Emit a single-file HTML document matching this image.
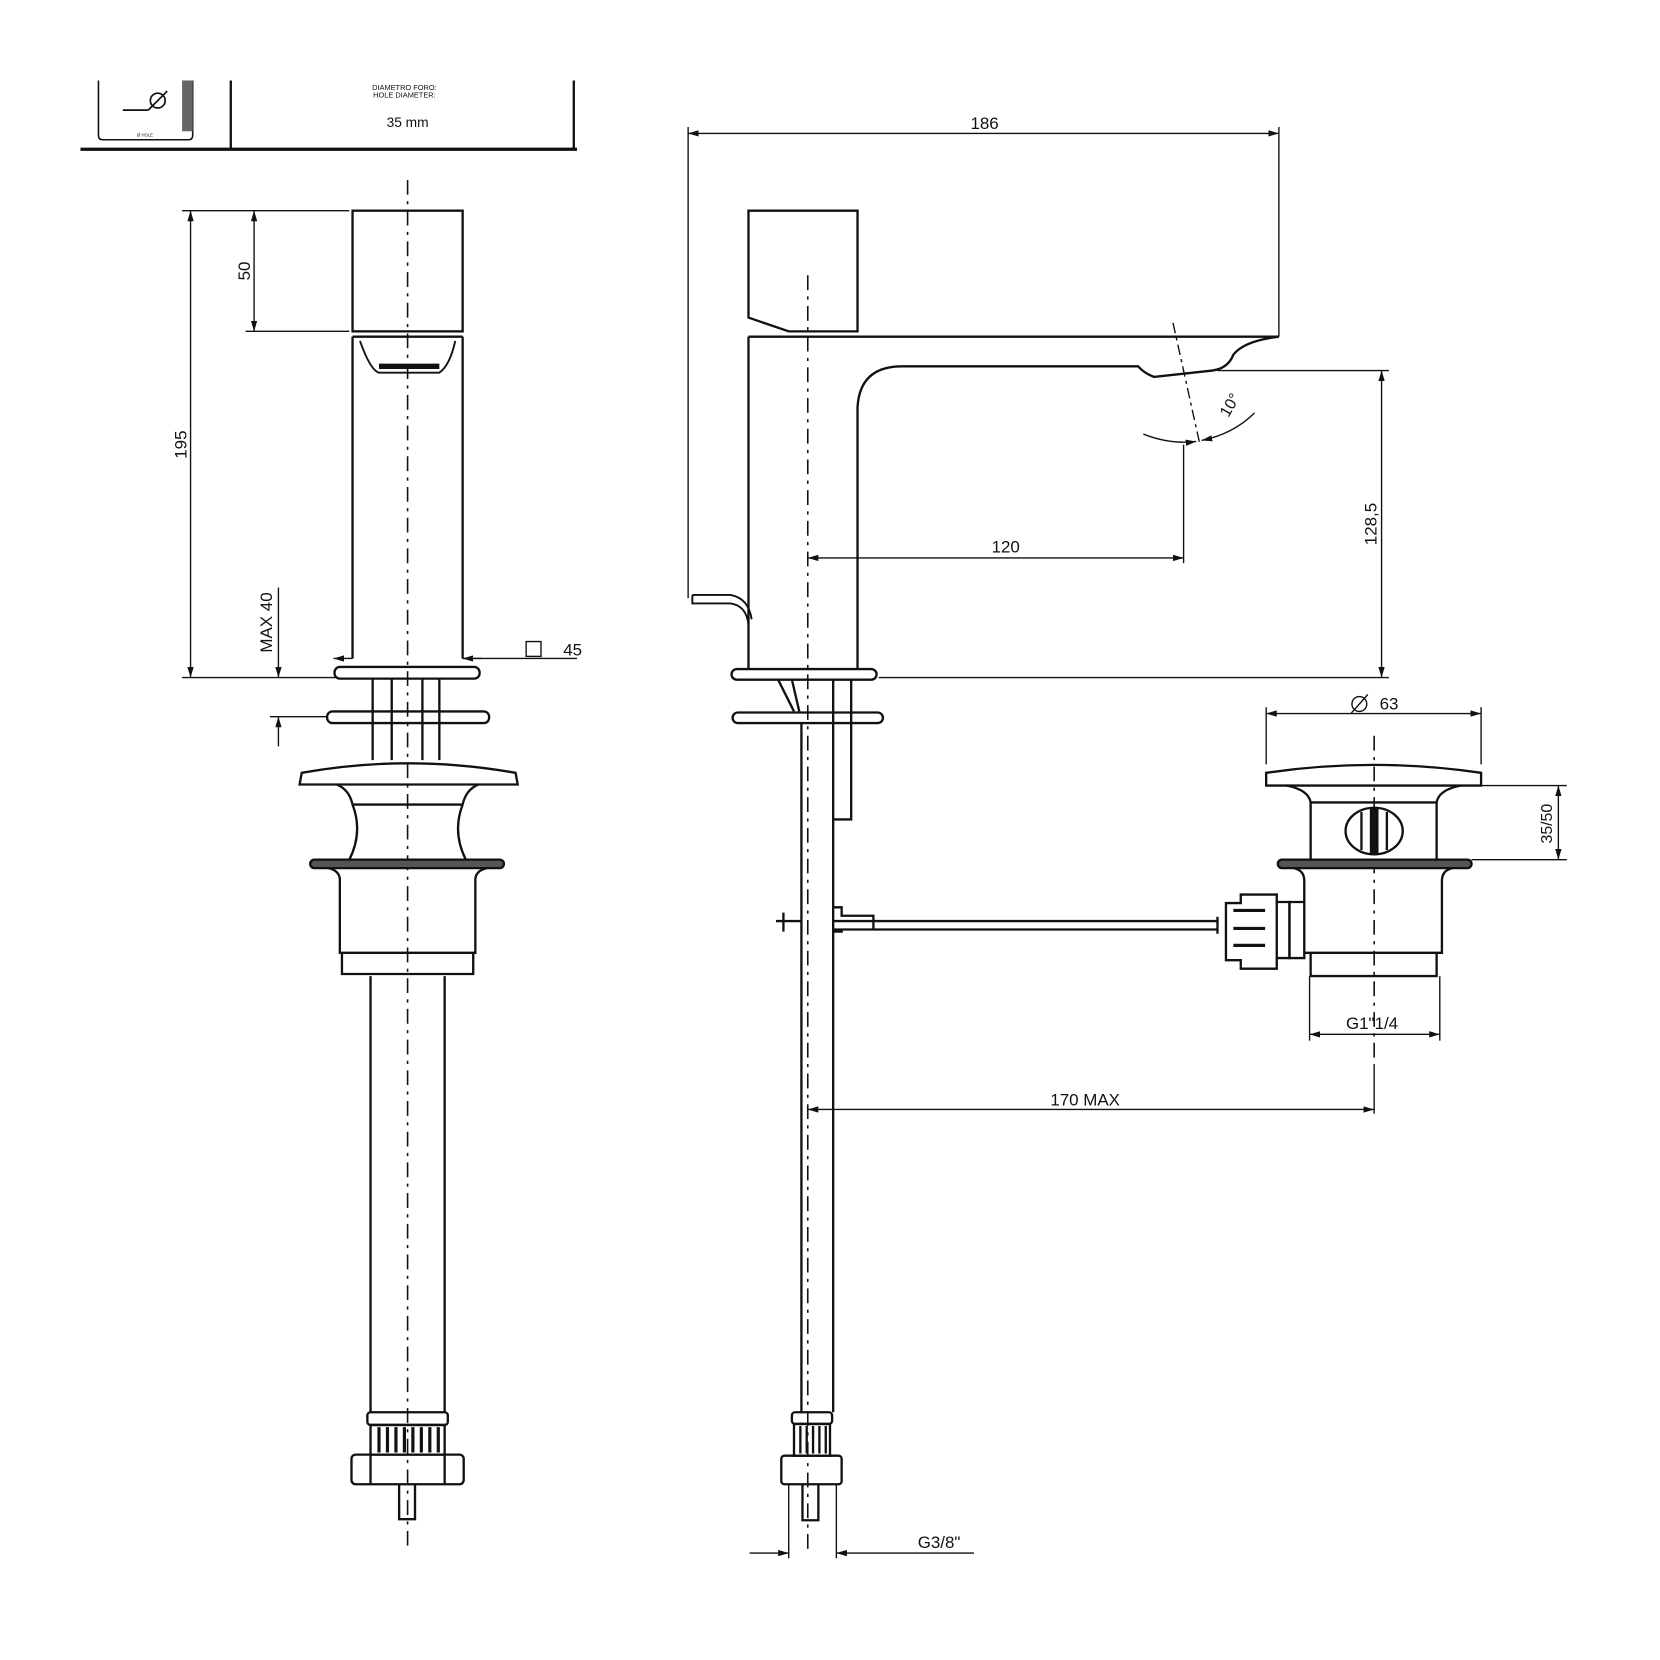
<!DOCTYPE html>
<html><head><meta charset="utf-8"><style>
html,body{margin:0;padding:0;background:#fff}
svg{display:block}
text{font-family:"Liberation Sans",sans-serif;fill:#111}
</style></head><body>
<svg width="1660" height="1660" viewBox="0 0 1568 1568" xmlns="http://www.w3.org/2000/svg">
<defs>
<marker id="a" viewBox="0 0 10 6" refX="10" refY="3" markerWidth="10" markerHeight="6" orient="auto-start-reverse" markerUnits="userSpaceOnUse"><path d="M0,0L10,3L0,6z" fill="#111"/></marker>
</defs>
<g fill="none" stroke="#111" stroke-width="2.2">
<line x1="76" y1="141" x2="545" y2="141" stroke-width="3"/>
<line x1="542" y1="76" x2="542" y2="141"/>
<line x1="218" y1="76" x2="218" y2="141"/>
<path d="M93,76 V128 Q93,132 97,132 H178 Q182,132 182,128 V76" stroke-width="1.5"/>
<rect x="172" y="76" width="10" height="48" fill="#666" stroke="none"/>
<circle cx="149" cy="95" r="7" stroke-width="1.6"/>
<line x1="140" y1="104" x2="158" y2="86" stroke-width="1.6"/>
<line x1="116" y1="104" x2="140" y2="104" stroke-width="1.6"/>
</g>
<text x="382" y="85" font-size="7" text-anchor="middle">DIAMETRO FORO:</text>
<text x="382" y="92" font-size="7" text-anchor="middle">HOLE DIAMETER:</text>
<text x="385" y="120" font-size="13" text-anchor="middle">35 mm</text>
<text x="137" y="129" font-size="4" text-anchor="middle">Ø HOLE</text>

<g fill="none" stroke="#111" stroke-width="2.2">
<line x1="385" y1="170" x2="385" y2="1465" stroke-width="1.5" stroke-dasharray="14,6,3,6"/>
<rect x="333" y="199" width="104" height="114"/>
<path d="M333,318 V622 M437,318 V622 M333,318 H437"/>
<path d="M340,322 Q350,350 358,352 H415 Q425,345 430,322" stroke-width="1.8"/>
<path d="M358,346 H415" stroke-width="5"/>
<rect x="316" y="630" width="137" height="11" rx="5"/>
<rect x="309" y="672" width="153" height="11" rx="5"/>
<path d="M352,641V718 M370,641V718 M399,641V718 M415,641V718"/>
<path d="M285,730 Q385,712 487,730 L489,741 H283 Z"/>
<path d="M318,741 Q330,746 333,760 M452,741 Q440,746 437,760 M333,760 H437 M333,760 Q343,786 330,812 M437,760 Q427,786 440,812"/>
<rect x="293" y="812" width="183" height="8" rx="4" fill="#555"/>
<path d="M310,820 Q320,822 321,830 V900 H449 V830 Q450,822 460,820"/>
<path d="M323,900 V920 H447 V900"/>
<path d="M350,922 V1334 M420,922 V1334"/>
<rect x="347" y="1334" width="76" height="12" rx="3"/>
<path d="M350,1346 H420 V1374 H350 Z"/>
<path d="M358,1348V1372 M366,1348V1372 M374,1348V1372 M382,1348V1372 M390,1348V1372 M398,1348V1372 M406,1348V1372 M414,1348V1372" stroke-width="3"/>
<rect x="332" y="1374" width="106" height="28" rx="4"/>
<path d="M350,1374V1402 M420,1374V1402"/>
<path d="M377,1402V1435 H392 V1402"/>
</g>
<g fill="none" stroke="#111" stroke-width="1.3">
<line x1="172" y1="199" x2="330" y2="199"/>
<line x1="172" y1="640" x2="318" y2="640"/>
<line x1="180" y1="199" x2="180" y2="640" marker-start="url(#a)" marker-end="url(#a)"/>
<line x1="232" y1="313" x2="330" y2="313"/>
<line x1="240" y1="199" x2="240" y2="313" marker-start="url(#a)" marker-end="url(#a)"/>
<line x1="255" y1="677" x2="309" y2="677"/>
<line x1="263" y1="555" x2="263" y2="640" marker-end="url(#a)"/>
<line x1="263" y1="705" x2="263" y2="677" marker-end="url(#a)"/>
<line x1="315" y1="622" x2="333" y2="622" marker-start="url(#a)"/>
<line x1="455" y1="622" x2="437" y2="622" marker-end="url(#a)"/>
<line x1="437" y1="622" x2="545" y2="622"/>
<rect x="497" y="606" width="14" height="14"/>
</g>
<text x="532" y="619" font-size="16">45</text>
<text transform="translate(176,420) rotate(-90)" font-size="16" text-anchor="middle">195</text>
<text transform="translate(236,256) rotate(-90)" font-size="16" text-anchor="middle">50</text>
<text transform="translate(257,588) rotate(-90)" font-size="16" text-anchor="middle">MAX 40</text>

<g fill="none" stroke="#111" stroke-width="2.2">
<line x1="763" y1="260" x2="763" y2="1465" stroke-width="1.5" stroke-dasharray="14,6,3,6"/>
<path d="M707,199 H810 V313 H745 L707,300 Z"/>
<path d="M707,318 V632 M707,318 H1208 Q1175,322 1165,335 Q1160,348 1145,350 L1090,356 Q1080,352 1075,346 H852 Q812,346 810,385 V632"/>
<path d="M654,562 H690 Q707,565 710,585 M654,562 V570 H690 Q705,572 707,590" stroke-width="1.8"/>
<rect x="691" y="632" width="137" height="10" rx="5"/>
<rect x="692" y="673" width="142" height="10" rx="5"/>
<path d="M735,642 L750,672 M748,642 L755,672"/>
<path d="M757,683 V1334 M787,642 V1334 M804,642 V774 H787"/>
<path d="M787,857 H795 V865 H825 V878 H795 V880 H787 M733,870 H757 M740,862 V880 M787,870 H1150 M787,878 H1150"/>
<rect x="748" y="1334" width="38" height="11" rx="3"/>
<path d="M750,1345 H784 V1375 H750 Z M756,1347V1373 M762,1347V1373 M768,1347V1373 M774,1347V1373 M780,1347V1373" />
<rect x="738" y="1375" width="57" height="27" rx="3"/>
<path d="M758,1402 V1436 H773 V1402"/>
<line x1="1298" y1="695" x2="1298" y2="1000" stroke-width="1.5" stroke-dasharray="14,6,3,6"/>
<path d="M1196,730 Q1298,715 1399,730 V742 H1196 Z"/>
<path d="M1215,742 Q1236,746 1238,758 V812 M1380,742 Q1359,746 1357,758 V812 M1238,758 H1357"/>
<ellipse cx="1298" cy="785" rx="27" ry="22"/>
<path d="M1286,767V803 M1310,767V803" />
<rect x="1295" y="764" width="6" height="42" fill="#111"/>
<rect x="1207" y="812" width="183" height="8" rx="4" fill="#555"/>
<path d="M1222,820 Q1232,822 1232,832 V852 H1218 V905 H1232 V900 M1232,852 V900 H1362 V832 Q1362,822 1372,820"/>
<path d="M1238,900 V922 H1357 V900"/>
<path d="M1172,845 H1206 V915 H1172 V907 H1158 V853 H1172 Z M1206,852 H1218 V905 H1206"/>
<path d="M1165,860 H1195 M1165,877 H1195 M1165,893 H1195" stroke-width="3"/>
<path d="M1150,866 V882"/>
</g>
<g fill="none" stroke="#111" stroke-width="1.3">
<line x1="650" y1="120" x2="650" y2="565"/>
<line x1="1208" y1="120" x2="1208" y2="318"/>
<line x1="650" y1="126" x2="1208" y2="126" marker-start="url(#a)" marker-end="url(#a)"/>
<line x1="1150" y1="350" x2="1312" y2="350"/>
<line x1="830" y1="640" x2="1312" y2="640"/>
<line x1="1305" y1="350" x2="1305" y2="640" marker-start="url(#a)" marker-end="url(#a)"/>
<line x1="1118" y1="420" x2="1118" y2="532"/>
<line x1="763" y1="527" x2="1118" y2="527" marker-start="url(#a)" marker-end="url(#a)"/>
<line x1="1108" y1="305" x2="1133" y2="418" stroke-dasharray="10,4,3,4"/>
<path d="M1080,410 Q1105,420 1130,417" marker-end="url(#a)"/>
<path d="M1185,390 Q1165,410 1135,416" marker-end="url(#a)"/>
<line x1="1196" y1="668" x2="1196" y2="722"/>
<line x1="1399" y1="668" x2="1399" y2="722"/>
<line x1="1196" y1="674" x2="1399" y2="674" marker-start="url(#a)" marker-end="url(#a)"/>
<circle cx="1284" cy="665" r="7"/><line x1="1276" y1="674" x2="1292" y2="656"/>
<line x1="1400" y1="742" x2="1480" y2="742"/>
<line x1="1390" y1="812" x2="1480" y2="812"/>
<line x1="1472" y1="742" x2="1472" y2="812" marker-start="url(#a)" marker-end="url(#a)"/>
<line x1="1237" y1="922" x2="1237" y2="983"/>
<line x1="1360" y1="922" x2="1360" y2="983"/>
<line x1="1237" y1="977" x2="1360" y2="977" marker-start="url(#a)" marker-end="url(#a)"/>
<line x1="1298" y1="1005" x2="1298" y2="1052"/>
<line x1="763" y1="1048" x2="1298" y2="1048" marker-start="url(#a)" marker-end="url(#a)"/>
<line x1="745" y1="1402" x2="745" y2="1472"/>
<line x1="790" y1="1402" x2="790" y2="1472"/>
<line x1="708" y1="1467" x2="745" y2="1467" marker-end="url(#a)"/>
<line x1="920" y1="1467" x2="790" y2="1467" marker-end="url(#a)"/>
</g>
<text x="930" y="122" font-size="16" text-anchor="middle">186</text>
<text x="950" y="522" font-size="16" text-anchor="middle">120</text>
<text transform="translate(1300,495) rotate(-90)" font-size="16" text-anchor="middle">128,5</text>
<text transform="translate(1166,385) rotate(-60)" font-size="15" text-anchor="middle">10°</text>
<text x="1312" y="670" font-size="16" text-anchor="middle">63</text>
<text transform="translate(1466,778) rotate(-90)" font-size="15" text-anchor="middle">35/50</text>
<text x="1296" y="972" font-size="16" text-anchor="middle">G1"1/4</text>
<text x="1025" y="1044" font-size="16" text-anchor="middle">170 MAX</text>
<text x="887" y="1462" font-size="16" text-anchor="middle">G3/8"</text>
</svg>
</body></html>
